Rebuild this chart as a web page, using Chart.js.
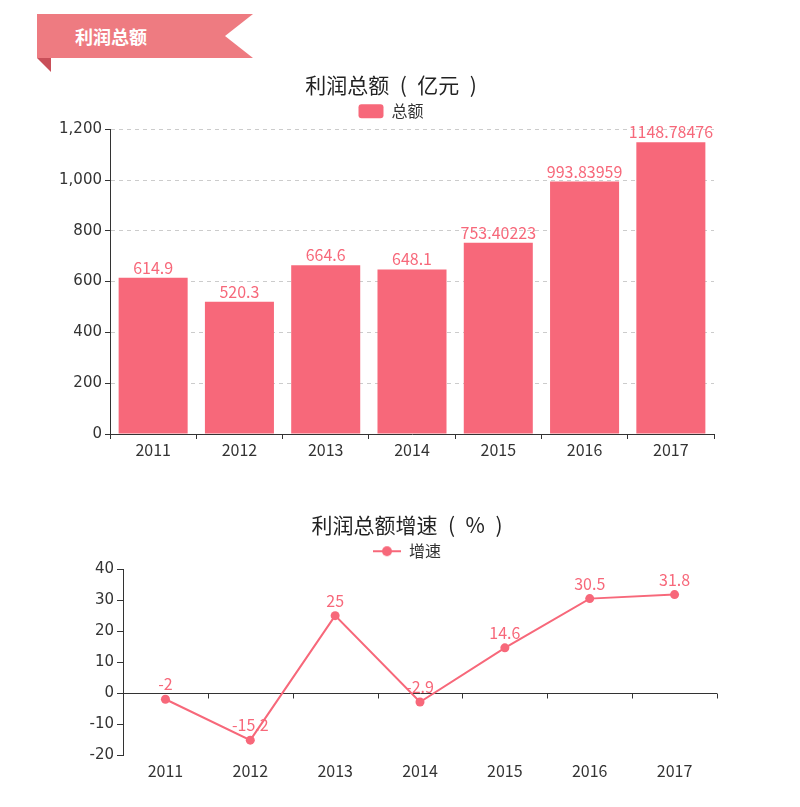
<!DOCTYPE html>
<html>
<head>
<meta charset="utf-8">
<script src="https://cdn.jsdelivr.net/npm/chart.js@4/dist/chart.umd.min.js"></script>
<style>
  body { margin: 0; background: #fff; width: 800px; height: 807px; position: relative; overflow: hidden; }
  .ribbon { position: absolute; left: 0; top: 0; }
  .ribbon-text { position: absolute; left: 75px; top: 24px; color: #fff; font: bold 18px "Noto Sans CJK SC", sans-serif; line-height: 25px; }
  .box { position: absolute; left: 0; width: 800px; }
</style>
</head>
<body>
<svg class="ribbon" width="270" height="80">
  <polygon points="37,58 51,58 51,72" fill="#c94f59"/>
  <polygon points="37,14 253,14 225,36 253,58 37,58" fill="#ee7b81"/>
</svg>
<div class="ribbon-text">利润总额</div>

<div class="box" style="top:60px;height:420px"><canvas id="profitChart" width="800" height="420"></canvas></div>
<div class="box" style="top:500px;height:300px"><canvas id="growthChart" width="800" height="300"></canvas></div>

<script>
const years = ['2011', '2012', '2013', '2014', '2015', '2016', '2017'];
const profitTotal = [614.9, 520.3, 664.6, 648.1, 753.40223, 993.83959, 1148.78476];
const growthRate = [-2, -15.2, 25, -2.9, 14.6, 30.5, 31.8];

const PINK = '#f7687a';
const CJK = '"Noto Sans CJK SC", sans-serif';

Chart.defaults.font.family = CJK;
Chart.defaults.color = '#333';

// draws the value above each bar / point
const valueLabels = {
  id: 'valueLabels',
  afterDatasetsDraw(chart, args, opts) {
    const ctx = chart.ctx;
    chart.data.datasets.forEach((ds, i) => {
      const meta = chart.getDatasetMeta(i);
      meta.data.forEach((el, j) => {
        ctx.save();
        ctx.font = '16px ' + CJK;
        ctx.fillStyle = PINK;
        ctx.textAlign = 'center';
        ctx.textBaseline = 'alphabetic';
        ctx.fillText(String(ds.data[j]), el.x, el.y - opts.offset);
        ctx.restore();
      });
    });
  }
};

// small tick marks on the zero line of the growth chart
const zeroTicks = {
  id: 'zeroTicks',
  afterDraw(chart) {
    const x = chart.scales.x, y = chart.scales.y;
    const zero = Math.round(y.getPixelForValue(0)) + 0.5;
    const step = x.getPixelForValue(1) - x.getPixelForValue(0);
    const ctx = chart.ctx;
    ctx.save();
    ctx.strokeStyle = '#333';
    ctx.lineWidth = 1;
    ctx.beginPath();
    for (let i = 1; i <= years.length; i++) {
      const px = Math.round(x.getPixelForValue(i) - step / 2) + 0.5;
      ctx.moveTo(px, zero);
      ctx.lineTo(px, zero + 5);
    }
    ctx.stroke();
    ctx.restore();
  }
};

const titleOpts = (text) => ({
  display: true,
  text: text,
  color: '#222',
  font: { size: 21, weight: 'normal', family: CJK },
  padding: { top: 12, bottom: 0 }
});

// empty axis on the right, only to reserve space so the title sits where it should
const spacer = (w) => ({
  type: 'linear',
  position: 'right',
  afterFit: (s) => { s.width = w; },
  grid: { display: false },
  border: { display: false },
  ticks: { display: false }
});

new Chart(document.getElementById('profitChart'), {
  type: 'bar',
  data: {
    labels: years,
    datasets: [{
      label: '总额',
      data: profitTotal,
      backgroundColor: PINK,
      categoryPercentage: 0.8,
      barPercentage: 1
    }]
  },
  options: {
    responsive: false,
    animation: false,
    locale: 'en-US',
    layout: { padding: { left: 0, right: 18, bottom: 0, top: 0 } },
    plugins: {
      title: titleOpts('利润总额\u2002(\u2002亿元\u2002)'),
      legend: {
        labels: {
          boxWidth: 25, boxHeight: 14, useBorderRadius: true, borderRadius: 3,
          padding: 6, color: '#333', font: { size: 16, family: CJK }
        }
      },
      tooltip: { enabled: false },
      valueLabels: { offset: 4 }
    },
    scales: {
      x: {
        afterFit: (s) => { s.height = 46; },
        grid: { display: true, drawOnChartArea: false, tickLength: 5, tickColor: '#333', offset: true },
        border: { color: '#333' },
        ticks: { padding: 1, color: '#333', font: { size: 16, family: CJK } }
      },
      y: {
        min: 0, max: 1200,
        afterFit: (s) => { s.width = 110; },
        grid: { color: '#ccc', tickColor: '#333', tickLength: 5 },
        border: { color: '#333', dash: [4, 4] },
        ticks: { stepSize: 200, padding: 3, color: '#333', font: { size: 15, family: '"DejaVu Sans", sans-serif' } }
      },
      pad: spacer(68)
    }
  },
  plugins: [valueLabels]
});

// legend marker: line with a dot
const marker = document.createElement('canvas');
marker.width = 28; marker.height = 12;
const mctx = marker.getContext('2d');
mctx.strokeStyle = PINK; mctx.lineWidth = 2;
mctx.beginPath(); mctx.moveTo(0, 6); mctx.lineTo(28, 6); mctx.stroke();
mctx.fillStyle = PINK;
mctx.beginPath(); mctx.arc(14, 6, 5, 0, Math.PI * 2); mctx.fill();

new Chart(document.getElementById('growthChart'), {
  type: 'line',
  data: {
    labels: years,
    datasets: [{
      label: '增速',
      data: growthRate,
      borderColor: PINK,
      backgroundColor: PINK,
      borderWidth: 2,
      pointRadius: 4.5,
      pointBackgroundColor: PINK,
      pointBorderWidth: 0,
      tension: 0
    }]
  },
  options: {
    responsive: false,
    animation: false,
    layout: { padding: { left: 14, right: 0, bottom: 0, top: 0 } },
    plugins: {
      title: titleOpts('利润总额增速\u2002(\u2002%\u2002)'),
      legend: {
        labels: {
          usePointStyle: true, pointStyle: marker, pointStyleWidth: 28,
          padding: 6, color: '#333', font: { size: 16, family: CJK }
        }
      },
      tooltip: { enabled: false },
      valueLabels: { offset: 9 }
    },
    scales: {
      x: {
        offset: true,
        afterFit: (s) => { s.height = 45; },
        grid: { display: false },
        border: { display: false },
        ticks: { padding: -2, color: '#333', font: { size: 16, family: CJK } }
      },
      y: {
        min: -20, max: 40,
        afterFit: (s) => { s.width = 109; },
        grid: {
          color: (c) => (c.tick && c.tick.value === 0 ? '#333' : 'rgba(0,0,0,0)'),
          tickColor: '#333', tickLength: 6
        },
        border: { color: '#333' },
        ticks: { stepSize: 10, padding: 3, color: '#333', font: { size: 15, family: '"DejaVu Sans", sans-serif' } }
      },
      pad: spacer(83)
    }
  },
  plugins: [valueLabels, zeroTicks]
});
</script>
</body>
</html>
